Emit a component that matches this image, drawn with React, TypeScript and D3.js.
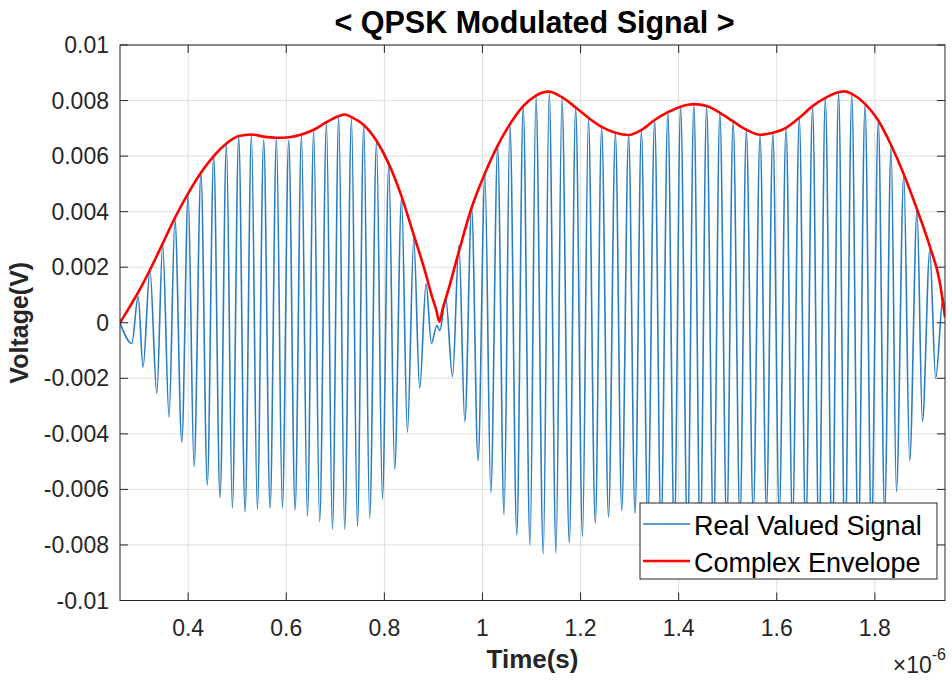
import { FC, useEffect, useRef } from 'react';
import * as d3 from 'd3';

// time in microseconds (axis reads x10^-6 s), values in mV (plotted in V)
const signalTimes = [
  0.261, 0.285, 0.298, 0.308, 0.322, 0.336, 0.348, 0.361, 0.373, 0.387,
  0.4, 0.412, 0.426, 0.439, 0.452, 0.465, 0.478, 0.49, 0.503, 0.516,
  0.529, 0.541, 0.554, 0.567, 0.58, 0.592, 0.605, 0.618, 0.631, 0.643,
  0.656, 0.668, 0.682, 0.694, 0.707, 0.719, 0.733, 0.745, 0.758, 0.77,
  0.784, 0.796, 0.809, 0.821, 0.835, 0.847, 0.86, 0.872, 0.885, 0.896,
  0.907, 0.913, 0.925, 0.939, 0.952, 0.964, 0.978, 0.991, 1.005, 1.017,
  1.031, 1.044, 1.056, 1.07, 1.083, 1.097, 1.109, 1.124, 1.136, 1.15,
  1.162, 1.177, 1.19, 1.204, 1.216, 1.23, 1.243, 1.257, 1.271, 1.284,
  1.298, 1.311, 1.324, 1.337, 1.351, 1.364, 1.378, 1.391, 1.404, 1.418,
  1.431, 1.444, 1.457, 1.471, 1.484, 1.498, 1.511, 1.525, 1.538, 1.552,
  1.566, 1.579, 1.592, 1.605, 1.619, 1.632, 1.646, 1.659, 1.673, 1.686,
  1.699, 1.713, 1.726, 1.739, 1.753, 1.766, 1.78, 1.793, 1.807, 1.82,
  1.833, 1.844, 1.859, 1.871, 1.886, 1.897, 1.912, 1.924, 1.939, 1.943,
];
const signalValues = [
  0, -0.74, 0.94, -1.6, 1.9, -2.54, 2.8, -3.4, 3.72, -4.3,
  4.62, -5.18, 5.38, -5.84, 6.0, -6.3, 6.43, -6.68, 6.7, -6.8,
  6.76, -6.72, 6.6, -6.68, 6.66, -6.68, 6.58, -6.74, 6.75, -6.96,
  6.91, -7.16, 7.2, -7.44, 7.42, -7.44, 7.33, -7.34, 7.12, -7.04,
  6.52, -6.34, 5.68, -5.28, 4.48, -3.94, 3.0, -2.36, 1.4, -0.74,
  -0.1, -0.28, 0.9, -1.94, 2.8, -3.56, 4.12, -4.97, 5.32, -6.12,
  6.34, -6.92, 7.12, -7.64, 7.78, -8.0, 8.14, -8.32, 8.28, -8.3,
  8.08, -7.92, 7.72, -7.7, 7.36, -7.22, 7.04, -7.0, 6.82, -6.77,
  6.76, -6.86, 6.91, -7.1, 7.3, -7.45, 7.56, -7.7, 7.76, -7.85,
  7.84, -7.85, 7.78, -7.7, 7.54, -7.4, 7.24, -7.1, 6.94, -6.85,
  6.76, -6.78, 6.82, -6.9, 7.0, -7.2, 7.36, -7.6, 7.78, -7.95,
  8.08, -8.2, 8.28, -8.3, 8.2, -8.1, 7.84, -7.6, 7.24, -6.8,
  6.34, -6.08, 5.32, -4.97, 4.06, -3.56, 2.6, -2.0, 0.9, 0.2,
];
const envelopeTimes = [
  0.261, 0.281, 0.302, 0.322, 0.348, 0.373, 0.4, 0.426, 0.452, 0.478,
  0.503, 0.529, 0.554, 0.58, 0.605, 0.631, 0.656, 0.682, 0.707, 0.72,
  0.733, 0.758, 0.784, 0.809, 0.835, 0.86, 0.883, 0.897, 0.906, 0.912,
  0.919, 0.934, 0.954, 0.978, 1.005, 1.031, 1.056, 1.083, 1.109, 1.135,
  1.162, 1.19, 1.216, 1.243, 1.271, 1.298, 1.324, 1.351, 1.378, 1.404,
  1.431, 1.457, 1.484, 1.511, 1.538, 1.566, 1.592, 1.619, 1.646, 1.673,
  1.699, 1.726, 1.739, 1.753, 1.78, 1.807, 1.833, 1.859, 1.886, 1.912,
  1.932, 1.943,
];
const envelopeValues = [
  0, 0.58, 1.22, 1.9, 2.85, 3.78, 4.66, 5.4, 6.0, 6.45,
  6.72, 6.78, 6.7, 6.66, 6.68, 6.78, 6.95, 7.22, 7.44, 7.5,
  7.4, 7.12, 6.55, 5.72, 4.55, 3.15, 1.85, 0.95, 0.45, 0.04,
  0.5, 1.4, 2.7, 4.15, 5.38, 6.38, 7.15, 7.8, 8.18, 8.32,
  8.12, 7.75, 7.38, 7.05, 6.84, 6.76, 6.94, 7.3, 7.58, 7.78,
  7.87, 7.8, 7.56, 7.25, 6.95, 6.77, 6.84, 7.02, 7.38, 7.8,
  8.1, 8.3, 8.33, 8.24, 7.88, 7.28, 6.4, 5.35, 4.08, 2.75,
  1.5, 0.2,
];
const xTicks = [0.4, 0.6, 0.8, 1, 1.2, 1.4, 1.6, 1.8];
const xTickLabels = ['0.4', '0.6', '0.8', '1', '1.2', '1.4', '1.6', '1.8'];
const yTicks = [-0.01, -0.008, -0.006, -0.004, -0.002, 0, 0.002, 0.004, 0.006, 0.008, 0.01];
const yTickLabels = ['-0.01', '-0.008', '-0.006', '-0.004', '-0.002', '0', '0.002', '0.004', '0.006', '0.008', '0.01'];
const xDomain = [0.261, 1.943];
const yDomain = [-0.01, 0.01];
const legendLabels = ['Real Valued Signal', 'Complex Envelope'];

const FONT = '"Liberation Sans", Arial, Helvetica, sans-serif';
const AXIS_COLOR = '#262626';
const SIGNAL_COLOR = '#2a7dc1';
const ENVELOPE_COLOR = '#ff0000';

const App: FC = () => {
  const ref = useRef<SVGSVGElement>(null);

  useEffect(() => {
    const svg = d3.select(ref.current);
    svg.selectAll('*').remove();

    // plot box
    const left = 120;
    const right = 945;
    const top = 45;
    const bottom = 600.5;

    const x = d3.scaleLinear().domain(xDomain).range([left, right]);
    const y = d3.scaleLinear().domain(yDomain).range([bottom, top]);

    svg.append('rect').attr('width', 952).attr('height', 681).attr('fill', '#fff');

    svg
      .append('defs')
      .append('clipPath')
      .attr('id', 'plot-clip')
      .append('rect')
      .attr('x', left)
      .attr('y', top)
      .attr('width', right - left)
      .attr('height', bottom - top);

    //grid
    const grid = svg.append('g').attr('stroke', '#dfdfdf').attr('stroke-width', 1);
    grid
      .selectAll('line.vx')
      .data(xTicks)
      .join('line')
      .attr('x1', (d) => x(d))
      .attr('x2', (d) => x(d))
      .attr('y1', top)
      .attr('y2', bottom);
    grid
      .selectAll('line.hy')
      .data(yTicks)
      .join('line')
      .attr('x1', left)
      .attr('x2', right)
      .attr('y1', (d) => y(d))
      .attr('y2', (d) => y(d));

    const plot = svg.append('g').attr('clip-path', 'url(#plot-clip)');

    // real valued signal through its read peaks and troughs
    const signalLine = d3
      .line<number>()
      .x((_, i) => x(signalTimes[i]))
      .y((d) => y(d / 1000))
      .curve(d3.curveMonotoneX);
    plot
      .append('path')
      .datum(signalValues)
      .attr('fill', 'none')
      .attr('stroke', SIGNAL_COLOR)
      .attr('stroke-width', 1.6)
      .attr('d', signalLine);

    // complex envelope
    const envLine = d3
      .line<number>()
      .x((_, i) => x(envelopeTimes[i]))
      .y((d) => y(d / 1000))
      .curve(d3.curveMonotoneX);
    plot
      .append('path')
      .datum(envelopeValues)
      .attr('fill', 'none')
      .attr('stroke', ENVELOPE_COLOR)
      .attr('stroke-width', 2.6)
      .attr('stroke-linejoin', 'round')
      .attr('d', envLine);

    // box and inward ticks
    const axes = svg.append('g').attr('stroke', AXIS_COLOR).attr('stroke-width', 1);
    axes
      .append('rect')
      .attr('x', left)
      .attr('y', top)
      .attr('width', right - left)
      .attr('height', bottom - top)
      .attr('fill', 'none');
    const tickLen = 8;
    xTicks.forEach((t) => {
      axes.append('line').attr('x1', x(t)).attr('x2', x(t)).attr('y1', bottom).attr('y2', bottom - tickLen);
      axes.append('line').attr('x1', x(t)).attr('x2', x(t)).attr('y1', top).attr('y2', top + tickLen);
    });
    yTicks.forEach((t) => {
      axes.append('line').attr('x1', left).attr('x2', left + tickLen).attr('y1', y(t)).attr('y2', y(t));
      axes.append('line').attr('x1', right).attr('x2', right - tickLen).attr('y1', y(t)).attr('y2', y(t));
    });

    const labels = svg.append('g').attr('font-family', FONT).attr('fill', AXIS_COLOR);
    labels
      .selectAll('text.xt')
      .data(xTicks)
      .join('text')
      .attr('x', (d) => x(d))
      .attr('y', 636)
      .attr('text-anchor', 'middle')
      .attr('font-size', 23)
      .text((_, i) => xTickLabels[i]);
    labels
      .selectAll('text.yt')
      .data(yTicks)
      .join('text')
      .attr('x', 109)
      .attr('y', (d) => y(d) + 8)
      .attr('text-anchor', 'end')
      .attr('font-size', 23)
      .text((_, i) => yTickLabels[i]);

    // x10^-6 exponent
    const expo = labels
      .append('text')
      .attr('x', right + 1)
      .attr('y', 673)
      .attr('text-anchor', 'end')
      .attr('font-size', 23);
    expo.append('tspan').text('×10');
    expo.append('tspan').attr('font-size', 16).attr('dy', -13).text('-6');

    // axis labels and title
    labels
      .append('text')
      .attr('x', (left + right) / 2)
      .attr('y', 668)
      .attr('text-anchor', 'middle')
      .attr('font-size', 26)
      .attr('font-weight', 'bold')
      .text('Time(s)');
    labels
      .append('text')
      .attr('transform', `translate(28,${(top + bottom) / 2}) rotate(-90)`)
      .attr('text-anchor', 'middle')
      .attr('font-size', 25)
      .attr('font-weight', 'bold')
      .text('Voltage(V)');
    svg
      .append('text')
      .attr('x', (left + right) / 2 + 2)
      .attr('y', 33)
      .attr('text-anchor', 'middle')
      .attr('font-family', FONT)
      .attr('font-size', 30.5)
      .attr('font-weight', 'bold')
      .attr('fill', '#000')
      .text('< QPSK Modulated Signal >');

    // legend
    const lg = svg.append('g').attr('transform', 'translate(640,503)');
    lg.append('rect')
      .attr('width', 297)
      .attr('height', 76)
      .attr('fill', '#fff')
      .attr('stroke', AXIS_COLOR)
      .attr('stroke-width', 1);
    const legendColors = [SIGNAL_COLOR, ENVELOPE_COLOR];
    const legendWidths = [1.6, 2.6];
    legendLabels.forEach((name, i) => {
      const ly = 21 + i * 37;
      lg.append('line')
        .attr('x1', 3)
        .attr('x2', 50)
        .attr('y1', ly)
        .attr('y2', ly)
        .attr('stroke', legendColors[i])
        .attr('stroke-width', legendWidths[i]);
      lg.append('text')
        .attr('x', 54)
        .attr('y', ly + 11)
        .attr('font-family', FONT)
        .attr('font-size', 27)
        .attr('fill', '#000')
        .text(name);
    });
  }, []);

  return (
    <svg
      ref={ref}
      width={952}
      height={681}
      style={{ position: 'absolute', left: 0, top: 0, display: 'block' }}
    />
  );
};

export default App;
